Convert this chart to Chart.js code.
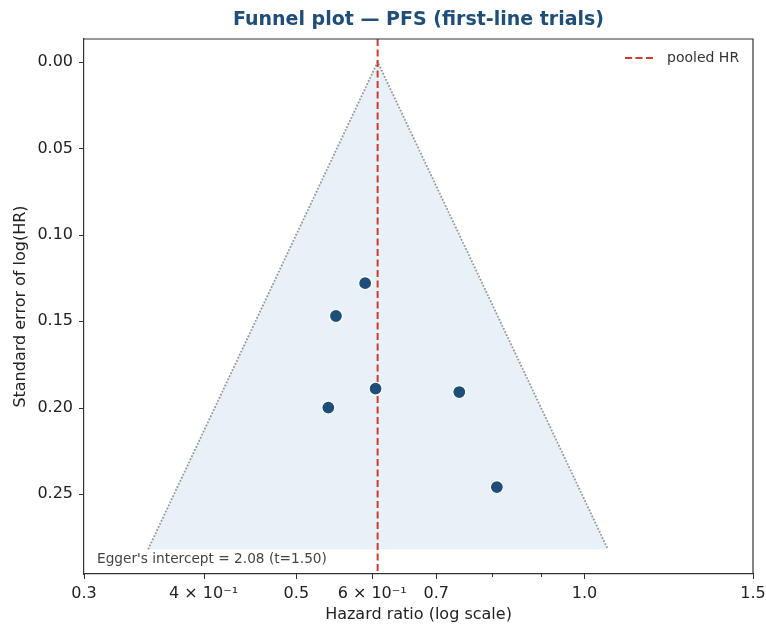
<!DOCTYPE html>
<html>
<head>
<meta charset="utf-8">
<script src="https://cdn.jsdelivr.net/npm/chart.js@4/dist/chart.umd.min.js"></script>
<style>
  html, body { margin: 0; padding: 0; background: #fff; }
  #wrap { width: 766px; height: 624px; }
</style>
</head>
<body>
<div id="wrap"><canvas id="funnel" width="766" height="624"></canvas></div>
<script>
// --- datos ---
const studyHR = [0.590, 0.550, 0.605, 0.540, 0.740, 0.810];
const studySE = [0.128, 0.147, 0.189, 0.200, 0.191, 0.246];
const pooledHR = 0.608;
const funnelHR = [0.350, 0.608, 1.058];
const funnelSE = [0.282, 0.000, 0.282];
const xTicks = [0.3, 0.4, 0.5, 0.6, 0.7, 0.8, 0.9, 1.0, 1.5];
const xLabels = ['0.3', '4 × 10⁻¹', '0.5', '6 × 10⁻¹', '0.7', '', '', '1.0', '1.5'];
const yTicks = [0, 0.05, 0.10, 0.15, 0.20, 0.25];
const xRange = [0.3, 1.5];
const yRange = [-0.0133, 0.2963];
const eggerText = "Egger's intercept = 2.08 (t=1.50)";
const titleText = 'Funnel plot — PFS (first-line trials)';

const FONT = "'DejaVu Sans', sans-serif";
const AXIS = '#333333';

// titulo, marco, ticks, leyenda y texto de Egger
const decoPlugin = {
    id: 'deco',
    afterDraw(chart) {
        const { ctx, chartArea: a, scales } = chart;
        ctx.save();

        // marco superior y derecho
        ctx.strokeStyle = AXIS;
        ctx.lineWidth = 1.2;
        ctx.beginPath();
        ctx.moveTo(a.left, a.top); ctx.lineTo(a.right, a.top); ctx.lineTo(a.right, a.bottom);
        ctx.stroke();

        // marcas de ticks
        ctx.lineWidth = 1;
        xTicks.forEach((v, i) => {
            const px = Math.round(scales.x.getPixelForValue(v)) + 0.5;
            const len = xLabels[i] === '' ? 3 : 5;
            ctx.beginPath(); ctx.moveTo(px, a.bottom); ctx.lineTo(px, a.bottom + len); ctx.stroke();
        });
        yTicks.forEach(v => {
            const py = Math.round(scales.y.getPixelForValue(v)) + 0.5;
            ctx.beginPath(); ctx.moveTo(a.left - 5, py); ctx.lineTo(a.left, py); ctx.stroke();
        });

        // titulo
        ctx.fillStyle = '#1f4e79';
        ctx.font = `bold 19px ${FONT}`;
        ctx.textAlign = 'center';
        ctx.textBaseline = 'middle';
        ctx.fillText(titleText, (a.left + a.right) / 2, 20);

        // leyenda
        const ly = a.top + 19;
        ctx.strokeStyle = '#d03a2f';
        ctx.lineWidth = 2;
        ctx.setLineDash([7, 3.5]);
        ctx.beginPath(); ctx.moveTo(a.right - 128, ly); ctx.lineTo(a.right - 98, ly); ctx.stroke();
        ctx.setLineDash([]);
        ctx.fillStyle = '#333';
        ctx.font = `14px ${FONT}`;
        ctx.textAlign = 'left';
        ctx.fillText('pooled HR', a.right - 86, ly);

        // Egger
        ctx.fillStyle = '#444';
        ctx.font = `13.7px ${FONT}`;
        ctx.fillText(eggerText, a.left + 13, a.bottom - 15);

        ctx.restore();
    }
};

const ctx = document.getElementById('funnel').getContext('2d');
new Chart(ctx, {
    type: 'scatter',
    data: {
        datasets: [
            {
                label: 'studies',
                data: studyHR.map((hr, i) => ({ x: hr, y: studySE[i] })),
                backgroundColor: '#1f4e79',
                borderColor: '#ffffff',
                borderWidth: 1.2,
                pointRadius: 6.5,
                order: 0
            },
            {
                label: 'pooled HR',
                type: 'line',
                data: [{ x: pooledHR, y: yRange[0] }, { x: pooledHR, y: yRange[1] }],
                borderColor: '#d03a2f',
                borderWidth: 2,
                borderDash: [7, 3.5],
                pointRadius: 0,
                fill: false,
                order: 1
            },
            {
                label: 'funnel',
                type: 'line',
                data: funnelHR.map((hr, i) => ({ x: hr, y: funnelSE[i] })),
                borderColor: '#999999',
                borderWidth: 1.8,
                borderDash: [1.8, 1.6],
                backgroundColor: 'rgba(31,119,180,0.10)',
                fill: { value: funnelSE[0] },
                pointRadius: 0,
                tension: 0,
                order: 2
            }
        ]
    },
    options: {
        responsive: false,
        animation: false,
        layout: { padding: { top: 39, right: 13, left: 0, bottom: 0 } },
        plugins: {
            legend: { display: false },
            title: { display: false },
            tooltip: { enabled: false }
        },
        scales: {
            x: {
                type: 'logarithmic',
                min: xRange[0],
                max: xRange[1],
                afterBuildTicks: (scale) => { scale.ticks = xTicks.map(v => ({ value: v })); },
                afterFit: (scale) => { scale.height = 50; scale.paddingLeft = 0; scale.paddingRight = 0; },
                grid: { display: false, drawTicks: false },
                border: { display: true, color: AXIS, width: 1.2 },
                ticks: {
                    autoSkip: false,
                    maxRotation: 0,
                    padding: 10,
                    color: '#222',
                    font: { family: FONT, size: 16 },
                    callback: (v, i) => xLabels[i]
                },
                title: {
                    display: true,
                    text: 'Hazard ratio (log scale)',
                    color: '#222',
                    font: { family: FONT, size: 16 },
                    padding: { top: 0, bottom: 0 }
                }
            },
            y: {
                reverse: true,
                min: yRange[0],
                max: yRange[1],
                afterBuildTicks: (scale) => { scale.ticks = yTicks.map(v => ({ value: v })); },
                afterFit: (scale) => { scale.width = 84; scale.paddingTop = 0; scale.paddingBottom = 0; },
                grid: { display: false, drawTicks: false },
                border: { display: true, color: AXIS, width: 1.2 },
                ticks: {
                    padding: 11,
                    color: '#222',
                    font: { family: FONT, size: 16 },
                    callback: (v) => Number(v).toFixed(2)
                },
                title: {
                    display: true,
                    text: 'Standard error of log(HR)',
                    color: '#222',
                    font: { family: FONT, size: 16 },
                    padding: { top: 11, bottom: 0 }
                }
            }
        }
    },
    plugins: [decoPlugin]
});
</script>
</body>
</html>
